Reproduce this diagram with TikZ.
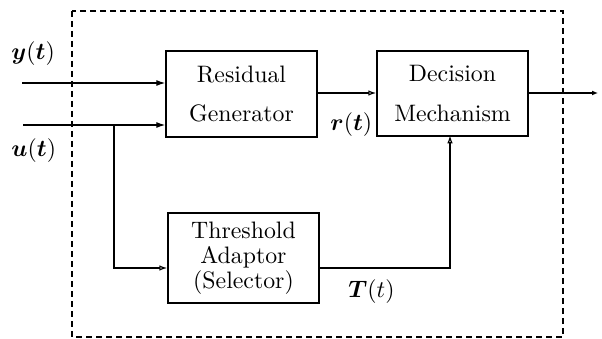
\documentclass[tikz,border=0pt]{standalone}
\usepackage{amsmath}
\usetikzlibrary{arrows.meta}
\begin{document}
\begin{tikzpicture}[x=1pt,y=-1pt,
  txt/.style={transform shape, scale=2.38, font=\fontsize{10}{12}\selectfont},
  blk/.style={txt, draw, line width=1.4pt, inner sep=0pt, outer sep=0pt, minimum width=63.45pt, align=center},
  conn/.style={line width=1.2pt},
  filltip/.style={-{Latex[length=9pt,width=6pt]}},
  opentip/.style={-{Latex[open,length=8pt,width=5.5pt]}},
  lbl/.style={txt, anchor=base west, inner sep=0pt}]
\useasboundingbox (0,0) rectangle (602,339);
% enclosing dashed box
\draw[line width=1.2pt, dash pattern=on 6pt off 4pt] (72,11) rectangle (563,337);
% blocks
\node[blk, minimum height=36.1pt, font=\fontsize{10}{16.8}\selectfont] (res) at (241.5,94) {Residual\\Generator};
\node[blk, minimum height=35.7pt, font=\fontsize{10}{16.8}\selectfont] (dec) at (452.5,93.5) {Decision\\Mechanism};
\node[blk, minimum height=37.8pt, font=\fontsize{10}{10.5}\selectfont] (thr) at (243.5,258) {Threshold\\Adaptor\\(Selector)};
% coordinates
\coordinate (yin) at (22,83);
\coordinate (uin) at (23,125);
\coordinate (br) at (114,125);
\coordinate (out) at (598,93);
% connectors
\draw[conn, filltip] (yin) -- ([xshift=-0.7pt]res.west |- yin);
\draw[conn, filltip] (uin) -- ([xshift=-0.7pt]res.west |- uin);
\draw[conn, opentip] (br) |- ([xshift=-0.7pt,yshift=-10pt]thr.west);
\draw[conn, opentip] ([yshift=1pt]res.east) -- ([xshift=-0.7pt,yshift=0.5pt]dec.west);
\draw[conn, -{Latex[length=6pt,width=5pt]}] ([yshift=0.5pt]dec.east) -- (out);
\draw[conn, opentip] ([yshift=-10pt]thr.east) -| ([xshift=-2.5pt,yshift=0.7pt]dec.south);
% labels
\node[lbl] (ly) at (11,60) {$\boldsymbol{y}\mathbf{(}\boldsymbol{t}\mathbf{)}$};
\node[lbl] (lu) at (11,157) {$\boldsymbol{u}\mathbf{(}\boldsymbol{t}\mathbf{)}$};
\node[lbl] (lr) at (330,131) {$\boldsymbol{r}\mathbf{(}\boldsymbol{t}\mathbf{)}$};
\node[lbl] (lT) at (348,297) {$\boldsymbol{T}(t)$};
\end{tikzpicture}
\end{document}
